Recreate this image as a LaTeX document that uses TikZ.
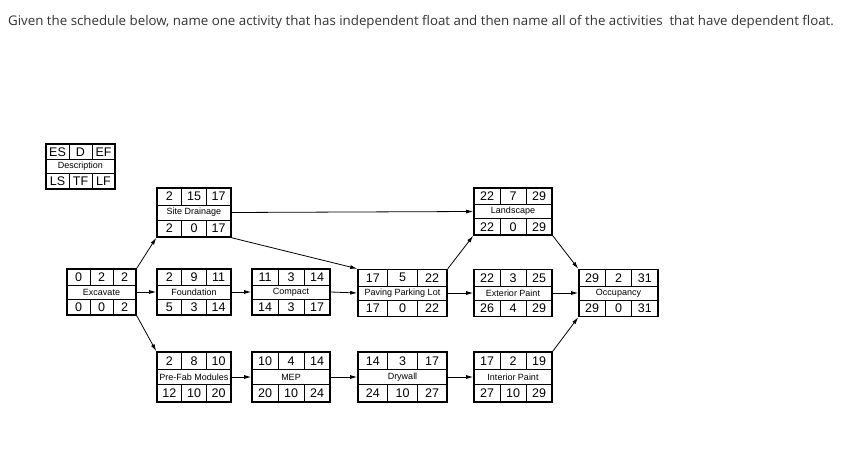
\documentclass[tikz,border=0pt]{standalone}
\usepackage{fontspec}
\setmainfont{Liberation Sans}
\newfontfamily\titlefont{Open Sans}
\usetikzlibrary{arrows.meta,calc}
\tikzset{
  actbox/.style={draw=black,line width=1.6pt,inner sep=0pt},
  inner/.style={draw=black,line width=0.6pt},
  num/.style={font=\fontsize{12.5}{12.5}\selectfont,inner sep=0pt},
  desc/.style={font=\fontsize{9}{9}\selectfont,inner sep=0pt},
  link/.style={line width=0.8pt,-{Latex[length=7pt,width=4pt]}}
}
\newcommand\actgeo[5]{\def\an{#1}\def\cx{#2}\def\cy{#3}\def\aw{#4}\def\ah{#5}}
\newcommand\actcells[8]{%
  \node[actbox,minimum width=\aw pt,minimum height=\ah pt] (\an) at (\cx,\cy) {};
  \draw[inner] ({\cx-\aw/2},{\cy-\ah/2+0.35*\ah}) -- ++(\aw,0);
  \draw[inner] ({\cx-\aw/2},{\cy-\ah/2+0.65*\ah}) -- ++(\aw,0);
  \foreach \f in {-1,1}{
    \draw[inner] ({\cx+\f*\aw/6},{\cy-\ah/2}) -- ++(0,{0.35*\ah});
    \draw[inner] ({\cx+\f*\aw/6},{\cy+\ah/2}) -- ++(0,{-0.35*\ah});
  }
  \node[num] (\an-es) at ({\cx-\aw/3},{\cy-0.325*\ah}) {#1};
  \node[num] (\an-d) at ({\cx},{\cy-0.325*\ah}) {#2};
  \node[num] (\an-ef) at ({\cx+\aw/3},{\cy-0.325*\ah}) {#3};
  \node[desc] (\an-desc) at (\cx,\cy) {#4};
  \node[num] (\an-ls) at ({\cx-\aw/3},{\cy+0.325*\ah}) {#5};
  \node[num] (\an-tf) at ({\cx},{\cy+0.325*\ah}) {#6};
  \node[num] (\an-lf) at ({\cx+\aw/3},{\cy+0.325*\ah}) {#7};
}
\begin{document}
\begin{tikzpicture}[x=1pt,y=-1pt]
\useasboundingbox[fill=white] (0,0) rectangle (865,473);
\node[anchor=west,font=\titlefont\fontsize{13.3}{14}\selectfont,text=black!80,inner sep=0pt] (title) at (8,22) {Given the schedule below, name one activity that has independent float and then name all of the activities\ \ that have dependent float.};
\actgeo{leg}{80.5}{166.5}{69}{45}\actcells{ES}{D}{EF}{Description}{LS}{TF}{LF}{}
\actgeo{sd}{194}{212.5}{74}{49}\actcells{2}{15}{17}{Site Drainage}{2}{0}{17}{}
\actgeo{exc}{101.5}{292}{69}{46}\actcells{0}{2}{2}{Excavate}{0}{0}{2}{}
\actgeo{fnd}{194}{292}{74}{46}\actcells{2}{9}{11}{Foundation}{5}{3}{14}{}
\actgeo{cmp}{291}{292}{78}{46}\actcells{11}{3}{14}{Compact}{14}{3}{17}{}
\actgeo{pav}{402.5}{293}{89}{47}\actcells{17}{5}{22}{Paving Parking Lot}{17}{0}{22}{}
\actgeo{lan}{513}{211.5}{78}{47}\actcells{22}{7}{29}{Landscape}{22}{0}{29}{}
\actgeo{ext}{513}{293}{78}{47}\actcells{22}{3}{25}{Exterior Paint}{26}{4}{29}{}
\actgeo{occ}{618.5}{293}{79}{47}\actcells{29}{2}{31}{Occupancy}{29}{0}{31}{}
\actgeo{pre}{194}{377}{74}{50}\actcells{2}{8}{10}{Pre-Fab Modules}{12}{10}{20}{}
\actgeo{mep}{291}{377}{78}{50}\actcells{10}{4}{14}{MEP}{20}{10}{24}{}
\actgeo{dry}{402.5}{377}{89}{50}\actcells{14}{3}{17}{Drywall}{24}{10}{27}{}
\actgeo{int}{513}{377}{78}{50}\actcells{17}{2}{19}{Interior Paint}{27}{10}{29}{}
\draw[link] (exc.north east) -- (sd.south west);
\draw[link] (exc.east) -- (fnd.west);
\draw[link] (exc.south east) -- (pre.north west);
\draw[link] (sd.east) -- (lan.west);
\draw[link] (sd.south east) -- (pav.north west);
\draw[link] (fnd.east) -- (cmp.west);
\draw[link] (cmp.east) -- (pav.west);
\draw[link] (pav.north east) -- (lan.south west);
\draw[link] (pav.east) -- (ext.west);
\draw[link] (ext.east) -- (occ.west);
\draw[link] (lan.south east) -- (occ.north west);
\draw[link] (pre.east) -- (mep.west);
\draw[link] (mep.east) -- (dry.west);
\draw[link] (dry.east) -- (int.west);
\draw[link] (int.north east) -- (occ.south west);
\end{tikzpicture}
\end{document}
